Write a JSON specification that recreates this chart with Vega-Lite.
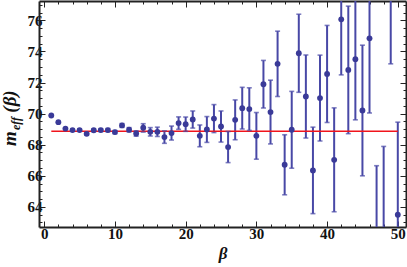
{
  "$schema": "https://vega.github.io/schema/vega-lite/v6.json",
  "width": 367,
  "height": 226,
  "autosize": "none",
  "padding": {"left": 39, "top": 1, "right": 1, "bottom": 40},
  "background": "white",
  "config": {
    "view": {"stroke": null},
    "axis": {
      "labelFont": "Liberation Serif", "labelFontWeight": "bold", "labelFontSize": 15, "labelColor": "#111",
      "titleFont": "Liberation Serif", "titleFontWeight": "bold", "titleFontStyle": "italic", "titleColor": "#111",
      "domainColor": "#222", "domainWidth": 2, "tickColor": "#222", "tickWidth": 1, "grid": false,
      "labelOverlap": false, "labelFlush": false, "labelBound": false
    }
  },
  "datasets": {
    "pts": [
      {"b": 1, "m": 69.88, "lo": 69.86, "hi": 69.9},
      {"b": 2, "m": 69.45, "lo": 69.42, "hi": 69.48},
      {"b": 3, "m": 69.04, "lo": 69.0, "hi": 69.08},
      {"b": 4, "m": 68.94, "lo": 68.89, "hi": 68.99},
      {"b": 5, "m": 68.94, "lo": 68.88, "hi": 69.0},
      {"b": 6, "m": 68.7, "lo": 68.63, "hi": 68.77},
      {"b": 7, "m": 68.93, "lo": 68.85, "hi": 69.01},
      {"b": 8, "m": 68.94, "lo": 68.85, "hi": 69.03},
      {"b": 9, "m": 68.94, "lo": 68.84, "hi": 69.04},
      {"b": 10, "m": 68.81, "lo": 68.71, "hi": 68.91},
      {"b": 11, "m": 69.24, "lo": 69.12, "hi": 69.36},
      {"b": 12, "m": 68.96, "lo": 68.82, "hi": 69.1},
      {"b": 13, "m": 68.72, "lo": 68.55, "hi": 68.89},
      {"b": 14, "m": 69.09, "lo": 68.81, "hi": 69.35},
      {"b": 15, "m": 68.83, "lo": 68.56, "hi": 69.1},
      {"b": 16, "m": 68.83, "lo": 68.53, "hi": 69.13},
      {"b": 17, "m": 68.49, "lo": 68.09, "hi": 68.89},
      {"b": 18, "m": 68.75, "lo": 68.3, "hi": 69.2},
      {"b": 19, "m": 69.39, "lo": 68.99, "hi": 69.79},
      {"b": 20, "m": 69.32, "lo": 68.86, "hi": 69.78},
      {"b": 21, "m": 69.62, "lo": 69.07, "hi": 70.17},
      {"b": 22, "m": 68.57, "lo": 67.87, "hi": 69.27},
      {"b": 23, "m": 68.98, "lo": 68.15, "hi": 69.81},
      {"b": 24, "m": 69.68, "lo": 68.78, "hi": 70.58},
      {"b": 25, "m": 69.17, "lo": 68.17, "hi": 70.17},
      {"b": 26, "m": 67.85, "lo": 66.85, "hi": 68.85},
      {"b": 27, "m": 69.6, "lo": 68.32, "hi": 70.88},
      {"b": 28, "m": 70.35, "lo": 69.01, "hi": 71.69},
      {"b": 29, "m": 70.29, "lo": 68.92, "hi": 71.66},
      {"b": 30, "m": 68.57, "lo": 67.07, "hi": 70.07},
      {"b": 31, "m": 71.89, "lo": 70.36, "hi": 73.42},
      {"b": 32, "m": 70.1, "lo": 68.05, "hi": 72.15},
      {"b": 33, "m": 73.2, "lo": 71.1, "hi": 75.3},
      {"b": 34, "m": 66.71, "lo": 64.78, "hi": 68.64},
      {"b": 35, "m": 68.96, "lo": 66.49, "hi": 71.43},
      {"b": 36, "m": 73.88, "lo": 71.37, "hi": 76.39},
      {"b": 37, "m": 71.1, "lo": 68.43, "hi": 73.77},
      {"b": 38, "m": 66.35, "lo": 63.57, "hi": 69.13},
      {"b": 39, "m": 71.0, "lo": 68.24, "hi": 73.76},
      {"b": 40, "m": 72.55, "lo": 69.43, "hi": 75.67},
      {"b": 41, "m": 67.03, "lo": 63.69, "hi": 70.37},
      {"b": 42, "m": 76.06, "lo": 72.49, "hi": 79.63},
      {"b": 43, "m": 72.81, "lo": 68.71, "hi": 76.91},
      {"b": 44, "m": 73.5, "lo": 69.6, "hi": 77.4},
      {"b": 45, "m": 70.2, "lo": 66.0, "hi": 74.4},
      {"b": 46, "m": 74.84, "lo": 70.04, "hi": 79.64},
      {"b": 47, "m": 61.6, "lo": 56.55, "hi": 66.65},
      {"b": 48, "m": 62.5, "lo": 57.11, "hi": 67.89},
      {"b": 49, "m": 78.6, "lo": 73.2, "hi": 84.0},
      {"b": 50, "m": 63.5, "lo": 57.55, "hi": 69.45}
    ],
    "fit": [{"b1": 1, "b2": 50, "v": 68.87}]
  },
  "layer": [
    {
      "data": {"name": "pts"},
      "mark": {"type": "rule", "color": "#4848a6", "strokeWidth": 2, "clip": true},
      "encoding": {
        "x": {"field": "b", "type": "quantitative", "scale": {"domain": [-0.74, 51.16], "nice": false, "zero": false},
          "axis": {"orient": "bottom", "title": "β", "titleFontSize": 17, "titlePadding": 1,
            "labelFont": "Liberation Serif", "labelFontWeight": "bold",
            "values": [0,2,4,6,8,10,12,14,16,18,20,22,24,26,28,30,32,34,36,38,40,42,44,46,48,50],
            "labelExpr": "datum.value % 10 === 0 ? format(datum.value, 'd') : ''",
            "tickSize": {"condition": {"test": "datum.value % 10 === 0", "value": -6}, "value": -3},
            "labelPadding": 5}},
        "y": {"field": "lo", "type": "quantitative", "scale": {"domain": [62.71, 77.24], "nice": false, "zero": false},
          "axis": {"orient": "left", "title": "m", "titleFontSize": 19, "titleAngle": -90, "titleX": -24, "titleY": 137, "titleAlign": "center", "titleBaseline": "alphabetic",
            "labelFont": "Liberation Serif", "labelFontWeight": "bold",
            "values": [63,63.5,64,64.5,65,65.5,66,66.5,67,67.5,68,68.5,69,69.5,70,70.5,71,71.5,72,72.5,73,73.5,74,74.5,75,75.5,76,76.5,77],
            "labelExpr": "datum.value % 2 === 0 ? format(datum.value, 'd') : ''",
            "tickSize": {"condition": {"test": "datum.value % 2 === 0", "value": -6}, "value": -3},
            "labelPadding": 3}},
        "y2": {"field": "hi"}
      }
    },
    {
      "data": {"name": "fit"},
      "mark": {"type": "rule", "color": "#f0141c", "strokeWidth": 1.6, "clip": true},
      "encoding": {
        "x": {"field": "b1", "type": "quantitative", "scale": {"domain": [-0.74, 51.16], "nice": false, "zero": false},
          "axis": {"orient": "top", "labels": false, "title": "eff", "titleFontSize": 12, "titleAngle": -90, "titleX": -20, "titleY": 122, "titleAlign": "center", "titleBaseline": "alphabetic",
            "values": [0,2,4,6,8,10,12,14,16,18,20,22,24,26,28,30,32,34,36,38,40,42,44,46,48,50],
            "tickSize": {"condition": {"test": "datum.value % 10 === 0", "value": -6}, "value": -3}}},
        "x2": {"field": "b2"},
        "y": {"field": "v", "type": "quantitative", "scale": {"domain": [62.71, 77.24], "nice": false, "zero": false},
          "axis": {"orient": "right", "labels": false, "title": "(β)", "titleFontSize": 19, "titleAngle": -90, "titleX": -391, "titleY": 100, "titleAlign": "center", "titleBaseline": "alphabetic",
            "values": [63,63.5,64,64.5,65,65.5,66,66.5,67,67.5,68,68.5,69,69.5,70,70.5,71,71.5,72,72.5,73,73.5,74,74.5,75,75.5,76,76.5,77],
            "tickSize": {"condition": {"test": "datum.value % 2 === 0", "value": -6}, "value": -3}}}
      }
    },
    {
      "data": {"name": "pts"},
      "mark": {"type": "tick", "orient": "horizontal", "color": "#4848a6", "size": 5, "thickness": 1.6, "clip": true},
      "encoding": {
        "x": {"field": "b", "type": "quantitative", "scale": {"domain": [-0.74, 51.16], "nice": false, "zero": false}, "axis": null},
        "y": {"field": "lo", "type": "quantitative", "scale": {"domain": [62.71, 77.24], "nice": false, "zero": false}, "axis": null}
      }
    },
    {
      "data": {"name": "pts"},
      "mark": {"type": "tick", "orient": "horizontal", "color": "#4848a6", "size": 5, "thickness": 1.6, "clip": true},
      "encoding": {
        "x": {"field": "b", "type": "quantitative", "scale": {"domain": [-0.74, 51.16], "nice": false, "zero": false}, "axis": null},
        "y": {"field": "hi", "type": "quantitative", "scale": {"domain": [62.71, 77.24], "nice": false, "zero": false}, "axis": null}
      }
    },
    {
      "data": {"name": "pts"},
      "mark": {"type": "point", "filled": true, "shape": "circle", "size": 34, "color": "#3a3a98", "opacity": 1, "clip": true},
      "encoding": {
        "x": {"field": "b", "type": "quantitative", "scale": {"domain": [-0.74, 51.16], "nice": false, "zero": false}, "axis": null},
        "y": {"field": "m", "type": "quantitative", "scale": {"domain": [62.71, 77.24], "nice": false, "zero": false}, "axis": null}
      }
    }
  ],
  "resolve": {"axis": {"x": "independent", "y": "independent"}}
}
